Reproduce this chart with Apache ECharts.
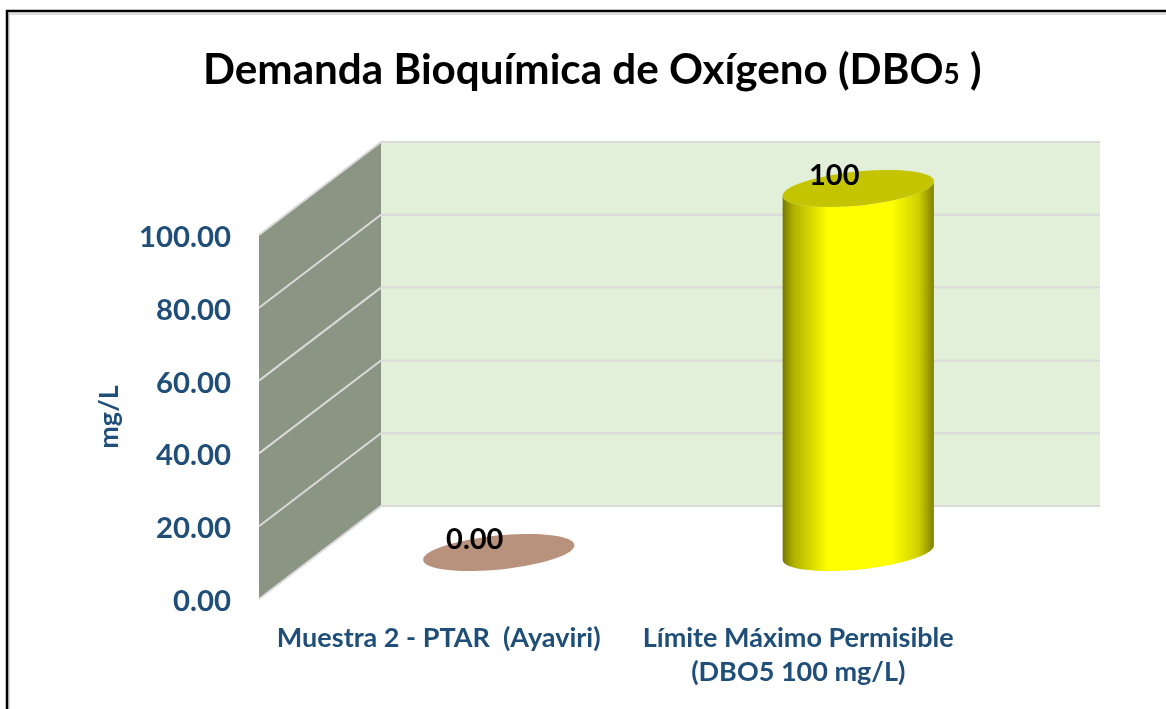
<!DOCTYPE html>
<html>
<head>
<meta charset="utf-8">
<style>
  html, body { margin: 0; padding: 0; background: #fff; }
  #chart { width: 1166px; height: 709px; }
</style>
<script src="https://cdn.jsdelivr.net/npm/echarts@6/dist/echarts.min.js"></script>
</head>
<body>
<div id="chart"></div>
<script>
var categories = ['Muestra 2 - PTAR  (Ayaviri)', 'Límite Máximo Permisible\n(DBO5 100 mg/L)'];
var values = [0, 100];
var valueLabels = ['0.00', '100'];
var yTicks = [0, 20, 40, 60, 80, 100];

// oblique depth of the fake 3D box, the bars sit halfway in
var DEPTH_X = 122;
var DEPTH_Y = -93;
var BAR_RX = 76;
var BAR_RY = 17;
var BAR_TILT = 0.1;
var FONT = 'Lato, "Open Sans", sans-serif';

function ellipsePoint(cx, cy, angle) {
    var px = BAR_RX * Math.cos(angle);
    var py = BAR_RY * Math.sin(angle);
    return [
        cx + px * Math.cos(BAR_TILT) + py * Math.sin(BAR_TILT),
        cy - px * Math.sin(BAR_TILT) + py * Math.cos(BAR_TILT)
    ];
}

function ellipsePoints(cx, cy) {
    var pts = [];
    for (var i = 0; i < 72; i++) {
        pts.push(ellipsePoint(cx, cy, i / 72 * Math.PI * 2));
    }
    return pts;
}

function bodyPoints(cx, topY, bottomY) {
    var pts = [ellipsePoint(cx, topY, Math.PI)];
    // lower half of the bottom ellipse, left to right
    for (var i = 0; i <= 36; i++) {
        pts.push(ellipsePoint(cx, bottomY, Math.PI - i / 36 * Math.PI));
    }
    pts.push(ellipsePoint(cx, topY, 0));
    // lower half of the top ellipse, right to left
    for (var j = 0; j <= 36; j++) {
        pts.push(ellipsePoint(cx, topY, j / 36 * Math.PI));
    }
    return pts;
}

function renderWalls(params, api) {
    var tick = api.value(0);
    var sys = params.coordSys;
    var y = api.coord([0, tick])[1];
    var x0 = sys.x;
    var x1 = sys.x + DEPTH_X;
    var x2 = x1 + sys.width;
    var lineStyle = { stroke: '#d9d9d9', lineWidth: 2, fill: null };
    var children = [];
    if (params.dataIndex === 0) {
        children.push({
            type: 'rect',
            shape: { x: x1, y: sys.y + DEPTH_Y, width: sys.width, height: sys.height },
            style: { fill: '#e2efd9' }
        });
        children.push({
            type: 'polygon',
            shape: { points: [
                [x0, sys.y],
                [x1, sys.y + DEPTH_Y],
                [x1, sys.y + sys.height + DEPTH_Y],
                [x0, sys.y + sys.height]
            ] },
            style: { fill: '#8b9584' }
        });
    }
    children.push({
        type: 'polyline',
        shape: { points: [[x0, y], [x1, y + DEPTH_Y], [x2, y + DEPTH_Y]] },
        style: lineStyle
    });
    return { type: 'group', children: children };
}

function renderBars(params, api) {
    var idx = api.value(0);
    var val = api.value(1);
    var base = api.coord([idx, 0]);
    var top = api.coord([idx, val]);
    var cx = base[0] + DEPTH_X / 2 - 1;
    var bottomY = base[1] + DEPTH_Y / 2;
    var topY = top[1] + DEPTH_Y / 2;
    var children = [];
    if (val > 0) {
        children.push({
            type: 'polygon',
            shape: { points: bodyPoints(cx, topY, bottomY) },
            style: {
                fill: new echarts.graphic.LinearGradient(0, 0, 1, 0, [
                    { offset: 0, color: '#767600' },
                    { offset: 0.07, color: '#b0b000' },
                    { offset: 0.3, color: '#ffff00' },
                    { offset: 0.72, color: '#ffff00' },
                    { offset: 0.9, color: '#cfcf00' },
                    { offset: 1, color: '#808000' }
                ])
            }
        });
    }
    children.push({
        type: 'polygon',
        shape: { points: ellipsePoints(cx, topY) },
        style: { fill: val > 0 ? '#c4c400' : '#b8927c' }
    });
    children.push({
        type: 'text',
        style: {
            text: valueLabels[idx],
            x: cx - 24,
            y: topY - 13,
            align: 'center',
            verticalAlign: 'middle',
            fill: '#000',
            font: 'bold 29px ' + FONT
        }
    });
    return { type: 'group', children: children };
}

var chart = echarts.init(document.getElementById('chart'));
window.addEventListener('resize', function () { chart.resize(); });

chart.setOption({
    animation: false,
    backgroundColor: '#fff',
    title: {
        text: 'Demanda Bioquímica de Oxígeno (DBO{sub|5} )',
        left: 198,
        top: 44,
        textStyle: {
            color: '#000',
            fontFamily: FONT,
            fontWeight: 'bold',
            fontSize: 42.2,
            rich: {
                sub: { fontFamily: FONT, fontSize: 28, fontWeight: 'bold', color: '#000', padding: [10, 0, 0, 0] }
            }
        }
    },
    graphic: [
        { type: 'polyline', silent: true, shape: { points: [[9, 709], [9, 14], [1166, 14]] }, style: { stroke: '#dddddd', lineWidth: 2, fill: null } },
        { type: 'polyline', silent: true, shape: { points: [[7, 709], [7, 11], [1166, 11]] }, style: { stroke: '#000', lineWidth: 2.5, fill: null } }
    ],
    grid: { left: 259, top: 235, width: 719, height: 364 },
    xAxis: {
        type: 'category',
        data: categories,
        axisLine: { show: false },
        axisTick: { show: false },
        axisLabel: {
            interval: 0,
            margin: 22,
            color: '#1f4e79',
            fontFamily: FONT,
            fontWeight: 'bold',
            fontSize: 27,
            lineHeight: 34
        }
    },
    yAxis: {
        type: 'value',
        min: 0,
        max: 100,
        interval: 20,
        name: 'mg/L',
        nameLocation: 'middle',
        nameGap: 136,
        nameTextStyle: { color: '#1f4e79', fontFamily: FONT, fontWeight: 'bold', fontSize: 27 },
        axisLine: { show: false },
        axisTick: { show: false },
        splitLine: { show: false },
        axisLabel: {
            margin: 28,
            color: '#1f4e79',
            fontFamily: FONT,
            fontWeight: 'bold',
            fontSize: 29.3,
            // short top-aligned line box puts the digits a little below the tick
            verticalAlign: 'top',
            lineHeight: 5,
            formatter: function (v) { return v.toFixed(2); }
        }
    },
    series: [{
        type: 'custom',
        silent: true,
        renderItem: renderWalls,
        encode: { y: 0 },
        data: yTicks.map(function (t) { return [t]; })
    }, {
        type: 'custom',
        silent: true,
        renderItem: renderBars,
        encode: { x: 0, y: 1 },
        data: values.map(function (v, i) { return [i, v]; })
    }]
});
</script>
</body>
</html>
